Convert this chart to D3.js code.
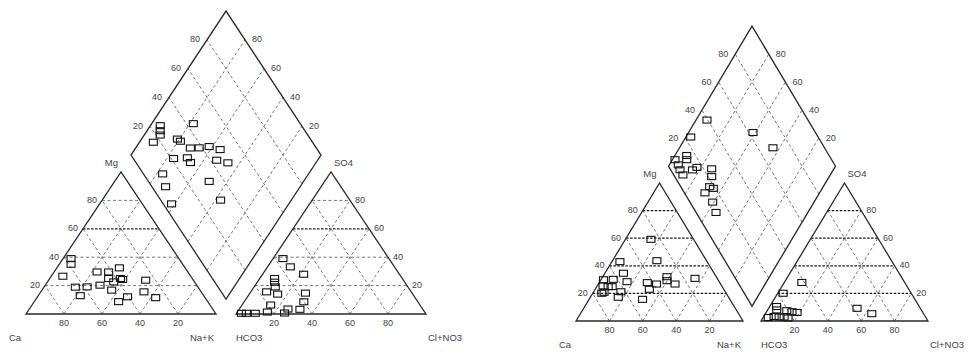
<!DOCTYPE html>
<html><head><meta charset="utf-8">
<script src="https://cdn.jsdelivr.net/npm/d3@7"></script>
<style>body{margin:0;background:#fff}svg{display:block}text{font-family:"Liberation Sans",Arial,sans-serif;fill:#444}</style>
</head><body>
<svg id="c" width="968" height="352"></svg>
<script>
// ---- data ----
const gridLevels = [20, 40, 60, 80];
const cationNames = ["Ca", "Mg", "Na+K"];
const anionNames = ["HCO3", "SO4", "Cl+NO3"];

// Left diagram. Cations: [Mg %, Na+K %] (Ca = rest)
const leftCation = [[39.0,4.2],[35.0,6.2],[26.6,6.1],[29.6,22.6],[29.6,28.7],[32.5,32.9],[25.0,37.2],[22.6,34.9],
  [18.9,16.5],[19.1,22.6],[12.9,22.1],[20.3,28.8],[16.8,36.7],[24.3,38.7],[12.1,47.4],[8.7,44.4],
  [23.8,51.1],[15.6,54.3],[11.5,62.5],[25.0,31.0]];
// Anions: [SO4 %, Cl+NO3 %] (HCO3 = rest)
const leftAnion = [[39.0,5.2],[33.2,12.0],[28.0,21.6],[25.0,7.8],[22.4,9.1],[19.1,11.1],[15.6,8.3],[14.0,14.9],
  [14.7,29.2],[8.6,31.4],[6.3,15.1],[3.5,25.6],[3.3,32.0],[1.4,15.8],[0.5,9.9],[0.5,5.2],[0.5,2.6],[0.7,25.2]];
// Diamond: [Na+K %, SO4+Cl %]
const leftDiamond = [[21.9,43.7],[5.2,25.6],[6.9,23.8],[8.4,22.3],[7.3,16.2],[18.9,30.0],[21.2,30.8],[28.8,33.7],
  [33.4,38.4],[38.2,44.1],[45.0,48.8],[23.6,21.2],[30.6,28.7],[33.9,28.7],[46.9,43.3],[53.7,48.3],
  [23.2,10.1],[29.2,7.2],[50.3,32.0],[38.3,4.4],[62.8,31.5]];

// Right diagram
const rightCation = [[59.2,15.3],[43.0,4.8],[43.7,26.6],[34.6,11.1],[29.9,1.5],[30.2,7.2],[28.5,16.3],[25.4,3.5],
  [24.9,6.8],[24.9,9.2],[20.8,6.4],[20.1,5.4],[21.2,16.3],[17.2,16.7],[27.8,28.8],[26.8,34.8],
  [23.0,32.4],[32.1,38.4],[29.2,39.9],[26.8,45.9],[30.9,55.8],[15.7,32.0]];
const rightAnion = [[27.9,10.5],[20.1,3.2],[10.5,4.1],[8.0,5.4],[7.5,11.7],[6.7,15.2],[6.2,18.5],[2.5,3.1],
  [3.3,6.2],[2.9,9.4],[2.9,12.4],[2.2,15.1],[9.2,52.9],[5.3,63.7]];
const rightDiamond = [[6.6,39.5],[2.9,23.7],[38.6,62.6],[56.0,69.1],[1.6,6.2],[7.1,14.7],[8.6,13.2],[5.4,6.3],
  [8.2,5.6],[11.8,5.5],[15.7,13.0],[17.5,16.6],[26.8,24.9],[29.6,22.1],[32.0,17.3],[34.8,18.9],
  [31.4,12.3],[39.3,13.6],[45.0,11.9]];

// ---- layout ----
const panels = [
  {x0: 26, base: 314, sx: 190, h: 142, dh: 144, gap: 20, cat: leftCation, an: leftAnion, dia: leftDiamond, boldH: [60]},
  {x0: 576, base: 321, sx: 167, h: 138, dh: 140, gap: 18, cat: rightCation, an: rightAnion, dia: rightDiamond, boldH: [20, 40, 60, 80]}
];

const svg = d3.select("#c");
const line = d3.line();

function drawPanel(P) {
  const g = svg.append("g");
  const xc = d3.scaleLinear().domain([0, 100]).range([P.x0, P.x0 + P.sx]);
  const a0 = P.x0 + P.sx + P.gap;
  const xa = d3.scaleLinear().domain([0, 100]).range([a0, a0 + P.sx]);
  const yt = d3.scaleLinear().domain([0, 100]).range([P.base, P.base - P.h]);
  const Bx = P.x0 + P.sx + P.gap / 2;
  const By = P.base - (P.gap / 2) * (2 * P.h / P.sx);
  const dx = d3.scaleLinear().domain([-100, 100]).range([Bx - P.sx / 2, Bx + P.sx / 2]);
  const dy = d3.scaleLinear().domain([0, 200]).range([By, By - 2 * P.dh]);

  const cp = (t, r) => [xc(r + t / 2), yt(t)];
  const ap = (t, r) => [xa(r + t / 2), yt(t)];
  const dp = (p, q) => [dx(q - p), dy(p + q)];

  const gridStyle = (sel, dark) => sel.attr("fill", "none")
    .attr("stroke", dark ? "#1a1a1a" : "#777").attr("stroke-width", dark ? 1.2 : 1)
    .attr("stroke-dasharray", dark ? "2.5,1.5" : "3,2.5");

  gridLevels.forEach(k => {
    const bold = P.boldH.includes(k);
    [cp, ap].forEach(f => {
      gridStyle(g.append("path").attr("d", line([f(k, 0), f(k, 100 - k)])), bold);
      gridStyle(g.append("path").attr("d", line([f(0, 100 - k), f(100 - k, 0)])), false);
      gridStyle(g.append("path").attr("d", line([f(0, k), f(100 - k, k)])), false);
    });
    gridStyle(g.append("path").attr("d", line([dp(k, 0), dp(k, 100)])), false);
    gridStyle(g.append("path").attr("d", line([dp(0, k), dp(100, k)])), false);
  });

  const outline = pts => g.append("path").attr("d", line(pts) + "Z")
    .attr("fill", "none").attr("stroke", "#2a2a2a").attr("stroke-width", 1.3);
  outline([cp(0, 0), cp(0, 100), cp(100, 0)]);
  outline([ap(0, 0), ap(0, 100), ap(100, 0)]);
  outline([dp(0, 0), dp(100, 0), dp(100, 100), dp(0, 100)]);

  const lab = (x, y, t, anchor, size) => g.append("text").attr("x", x).attr("y", y)
    .attr("text-anchor", anchor).attr("dominant-baseline", "middle")
    .attr("font-size", size || 9).text(t);
  gridLevels.forEach(k => {
    let p = cp(k, 0); lab(p[0] - 5, p[1], k, "end");
    lab(xc(100 - k), P.base + 10, k, "middle");
    p = ap(k, 100 - k); lab(p[0] + 5, p[1], k, "start");
    lab(xa(k), P.base + 10, k, "middle");
    p = dp(100, k); lab(p[0] - 7, p[1], k, "end");
    p = dp(k, 100); lab(p[0] + 7, p[1], k, "start");
  });

  const cApex = cp(100, 0), aApex = ap(100, 0);
  lab(P.x0 - 17, P.base + 24, cationNames[0], "start", 9.5);
  lab(P.x0 + P.sx - 2, P.base + 24, cationNames[2], "end", 9.5);
  lab(cApex[0] - 3, cApex[1] - 9, cationNames[1], "end", 9.5);
  lab(a0, P.base + 24, anionNames[0], "start", 9.5);
  lab(a0 + P.sx + 2, P.base + 24, anionNames[2], "start", 9.5);
  lab(aApex[0] + 3, aApex[1] - 9, anionNames[1], "start", 9.5);

  const mark = pts => g.append("g").selectAll("rect").data(pts).join("rect")
    .attr("x", d => d[0] - 4).attr("y", d => d[1] - 3).attr("width", 8).attr("height", 6)
    .attr("fill", "none").attr("stroke", "#111").attr("stroke-width", 1.1);
  mark(P.cat.map(d => cp(d[0], d[1])));
  mark(P.an.map(d => ap(d[0], d[1])));
  mark(P.dia.map(d => dp(100 - d[0], d[1])));
}
panels.forEach(drawPanel);
</script>
</body></html>
